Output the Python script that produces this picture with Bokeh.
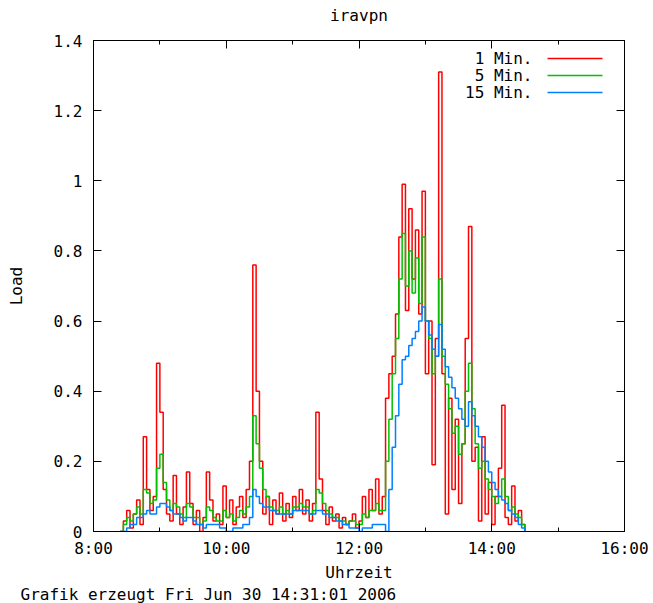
from bokeh.plotting import figure
from bokeh.models import FixedTicker, LinearAxis, Label, Arrow, Title
from bokeh.embed import file_html
from bokeh.resources import INLINE

# ---------------- data ----------------
title_text = "iravpn"
x_label = "Uhrzeit"
y_label = "Load"
footer_text = "Grafik erzeugt Fri Jun 30 14:31:01 2006"
series_labels = ["1 Min.", "5 Min.", "15 Min."]
series_colors = ["#ff0000", "#00c000", "#0080ff"]

sample_start_hour = 8
sample_start_minute = 24
sample_step_minutes = 3

load_1min = [
    0.00, 0.03, 0.06, 0.01, 0.05, 0.09, 0.02, 0.27, 0.12, 0.06,
    0.10, 0.48, 0.34, 0.12, 0.05, 0.03, 0.16, 0.05, 0.02, 0.07,
    0.17, 0.08, 0.02, 0.06, 0.00, 0.04, 0.17, 0.09, 0.03, 0.05,
    0.02, 0.13, 0.04, 0.09, 0.02, 0.07, 0.10, 0.04, 0.12, 0.20,
    0.76, 0.40, 0.20, 0.05, 0.10, 0.02, 0.09, 0.05, 0.11, 0.03,
    0.08, 0.04, 0.10, 0.06, 0.12, 0.05, 0.09, 0.03, 0.08, 0.34,
    0.15, 0.06, 0.02, 0.07, 0.03, 0.05, 0.01, 0.04, 0.02, 0.03,
    0.05, 0.01, 0.03, 0.10, 0.04, 0.12, 0.06, 0.15, 0.05, 0.10,
    0.38, 0.45, 0.50, 0.62, 0.84, 0.99, 0.63, 0.92, 0.72, 0.86,
    0.62, 0.97, 0.45, 0.60, 0.19, 0.55, 1.31, 0.45, 0.05, 0.38,
    0.12, 0.32, 0.08, 0.25, 0.55, 0.87, 0.20, 0.24, 0.03, 0.27,
    0.05, 0.14, 0.02, 0.10, 0.18, 0.36, 0.04, 0.02, 0.13, 0.03,
    0.06, 0.02, 0.00,
]
load_5min = [
    0.00, 0.02, 0.04, 0.03, 0.05, 0.07, 0.05, 0.12, 0.11, 0.08,
    0.09, 0.18, 0.22, 0.14, 0.09, 0.06, 0.08, 0.07, 0.05, 0.04,
    0.08, 0.07, 0.04, 0.04, 0.02, 0.03, 0.07, 0.06, 0.04, 0.03,
    0.03, 0.06, 0.04, 0.05, 0.03, 0.04, 0.06, 0.05, 0.07, 0.10,
    0.33, 0.25, 0.18, 0.12, 0.10, 0.07, 0.06, 0.06, 0.07, 0.05,
    0.06, 0.05, 0.07, 0.07, 0.08, 0.07, 0.07, 0.05, 0.06, 0.12,
    0.11, 0.08, 0.06, 0.05, 0.04, 0.04, 0.03, 0.03, 0.02, 0.03,
    0.03, 0.02, 0.02, 0.05, 0.04, 0.06, 0.06, 0.08, 0.06, 0.06,
    0.20, 0.32, 0.45, 0.55, 0.72, 0.85, 0.70, 0.80, 0.68, 0.78,
    0.65, 0.84, 0.60, 0.55, 0.45, 0.50, 0.72, 0.50, 0.42, 0.35,
    0.28, 0.30, 0.22, 0.25, 0.40, 0.48, 0.35, 0.25, 0.18, 0.20,
    0.15, 0.12, 0.10, 0.08, 0.10, 0.15, 0.10, 0.06, 0.07, 0.05,
    0.04, 0.02, 0.00,
]
load_15min = [
    0.00, 0.00, 0.01, 0.02, 0.02, 0.04, 0.04, 0.05, 0.06, 0.05,
    0.05, 0.07, 0.08, 0.08, 0.07, 0.06, 0.05, 0.05, 0.04, 0.03,
    0.04, 0.04, 0.03, 0.02, 0.02, 0.01, 0.02, 0.02, 0.02, 0.02,
    0.01, 0.01, 0.00, 0.00, 0.01, 0.01, 0.01, 0.02, 0.02, 0.04,
    0.12, 0.10, 0.08, 0.07, 0.07, 0.06, 0.06, 0.05, 0.05, 0.05,
    0.05, 0.05, 0.06, 0.06, 0.06, 0.06, 0.06, 0.05, 0.05, 0.06,
    0.06, 0.05, 0.05, 0.04, 0.04, 0.03, 0.03, 0.02, 0.02, 0.01,
    0.01, 0.01, 0.00, 0.01, 0.01, 0.01, 0.02, 0.02, 0.02, 0.02,
    0.00, 0.12, 0.24, 0.33, 0.42, 0.49, 0.50, 0.53, 0.55, 0.57,
    0.60, 0.64, 0.60, 0.56, 0.52, 0.50, 0.59, 0.52, 0.47, 0.44,
    0.41, 0.38, 0.35, 0.32, 0.30, 0.37, 0.33, 0.30, 0.27, 0.24,
    0.20, 0.17, 0.14, 0.12, 0.10, 0.09, 0.08, 0.06, 0.05, 0.04,
    0.02, 0.01, 0.00,
]

x_tick_hours = [8, 10, 12, 14, 16]
x_tick_labels = ["8:00", "10:00", "12:00", "14:00", "16:00"]
x_minor_hours = [9, 11, 13, 15]
y_ticks = [0, 0.2, 0.4, 0.6, 0.8, 1.0, 1.2, 1.4]
y_tick_labels = ["0", "0.2", "0.4", "0.6", "0.8", "1", "1.2", "1.4"]

# ---------------- plot ----------------
FONT = "DejaVu Sans Mono"
FSIZE = "16px"

start = sample_start_hour + sample_start_minute / 60
times = [start + i * sample_step_minutes / 60 for i in range(len(load_1min))]

p = figure(width=650, height=603, x_range=(8, 16), y_range=(0, 1.4),
           title=None, output_backend="svg", toolbar_location=None,
           min_border_left=93, min_border_right=26, min_border_top=40,
           min_border_bottom=72, x_axis_location=None, y_axis_location=None)
p.grid.visible = False
p.outline_line_color = "black"
p.outline_line_width = 1
p.background_fill_color = "white"
p.border_fill_color = "white"

xt = FixedTicker(ticks=x_tick_hours, minor_ticks=x_minor_hours)
yt = FixedTicker(ticks=y_ticks, minor_ticks=[])


def style(ax):
    ax.major_tick_in = 8
    ax.major_tick_out = 0
    ax.minor_tick_in = 4
    ax.minor_tick_out = 0
    ax.axis_line_color = "black"
    ax.major_tick_line_color = "black"
    ax.minor_tick_line_color = "black"
    ax.major_label_text_font = FONT
    ax.major_label_text_font_size = FSIZE
    ax.major_label_text_color = "black"
    ax.axis_label_text_font = FONT
    ax.axis_label_text_font_size = FSIZE
    ax.axis_label_text_font_style = "normal"
    ax.axis_label_text_color = "black"


xb = LinearAxis(ticker=xt, axis_label=x_label,
                major_label_overrides=dict(zip(x_tick_hours, x_tick_labels)))
style(xb)
xb.major_label_standoff = 7
xb.axis_label_standoff = 2
p.add_layout(xb, "below")

# mirrored tick marks on top (no tick labels); its axis label carries the title
xa = LinearAxis(ticker=xt, axis_label=title_text,
                major_label_overrides={t: "" for t in x_tick_hours})
style(xa)
xa.major_label_standoff = 0
xa.axis_label_standoff = 16
p.add_layout(xa, "above")

yl = LinearAxis(ticker=yt, axis_label=y_label,
                major_label_overrides=dict(zip(y_ticks, y_tick_labels)))
style(yl)
yl.major_label_standoff = 11
yl.axis_label_standoff = 25
p.add_layout(yl, "left")

yr = LinearAxis(ticker=yt, major_label_overrides={t: "" for t in y_ticks})
style(yr)
yr.major_label_standoff = 0
p.add_layout(yr, "right")

for vals, col in zip([load_1min, load_5min, load_15min], series_colors):
    p.step(times, vals, mode="after", line_color=col, line_width=1.5)

# legend (gnuplot style: text right-aligned, sample line on the right)
for i, (lab, col) in enumerate(zip(series_labels, series_colors)):
    yy = 473 - i * 17
    p.add_layout(Label(x=439, y=yy, x_units="screen", y_units="screen",
                       text=lab, text_align="right", text_baseline="middle",
                       text_font=FONT, text_font_size=FSIZE, text_color="black"))
    p.add_layout(Arrow(x_start=454, y_start=yy, x_end=509, y_end=yy,
                       start_units="screen", end_units="screen", end=None,
                       line_color=col, line_width=1.5))

p.add_layout(Title(text=footer_text, align="left", offset=-73, standoff=-3,
                   text_font=FONT, text_font_style="normal",
                   text_font_size=FSIZE, text_color="black"), "below")

open("out.html", "w").write(file_html(p, INLINE))
